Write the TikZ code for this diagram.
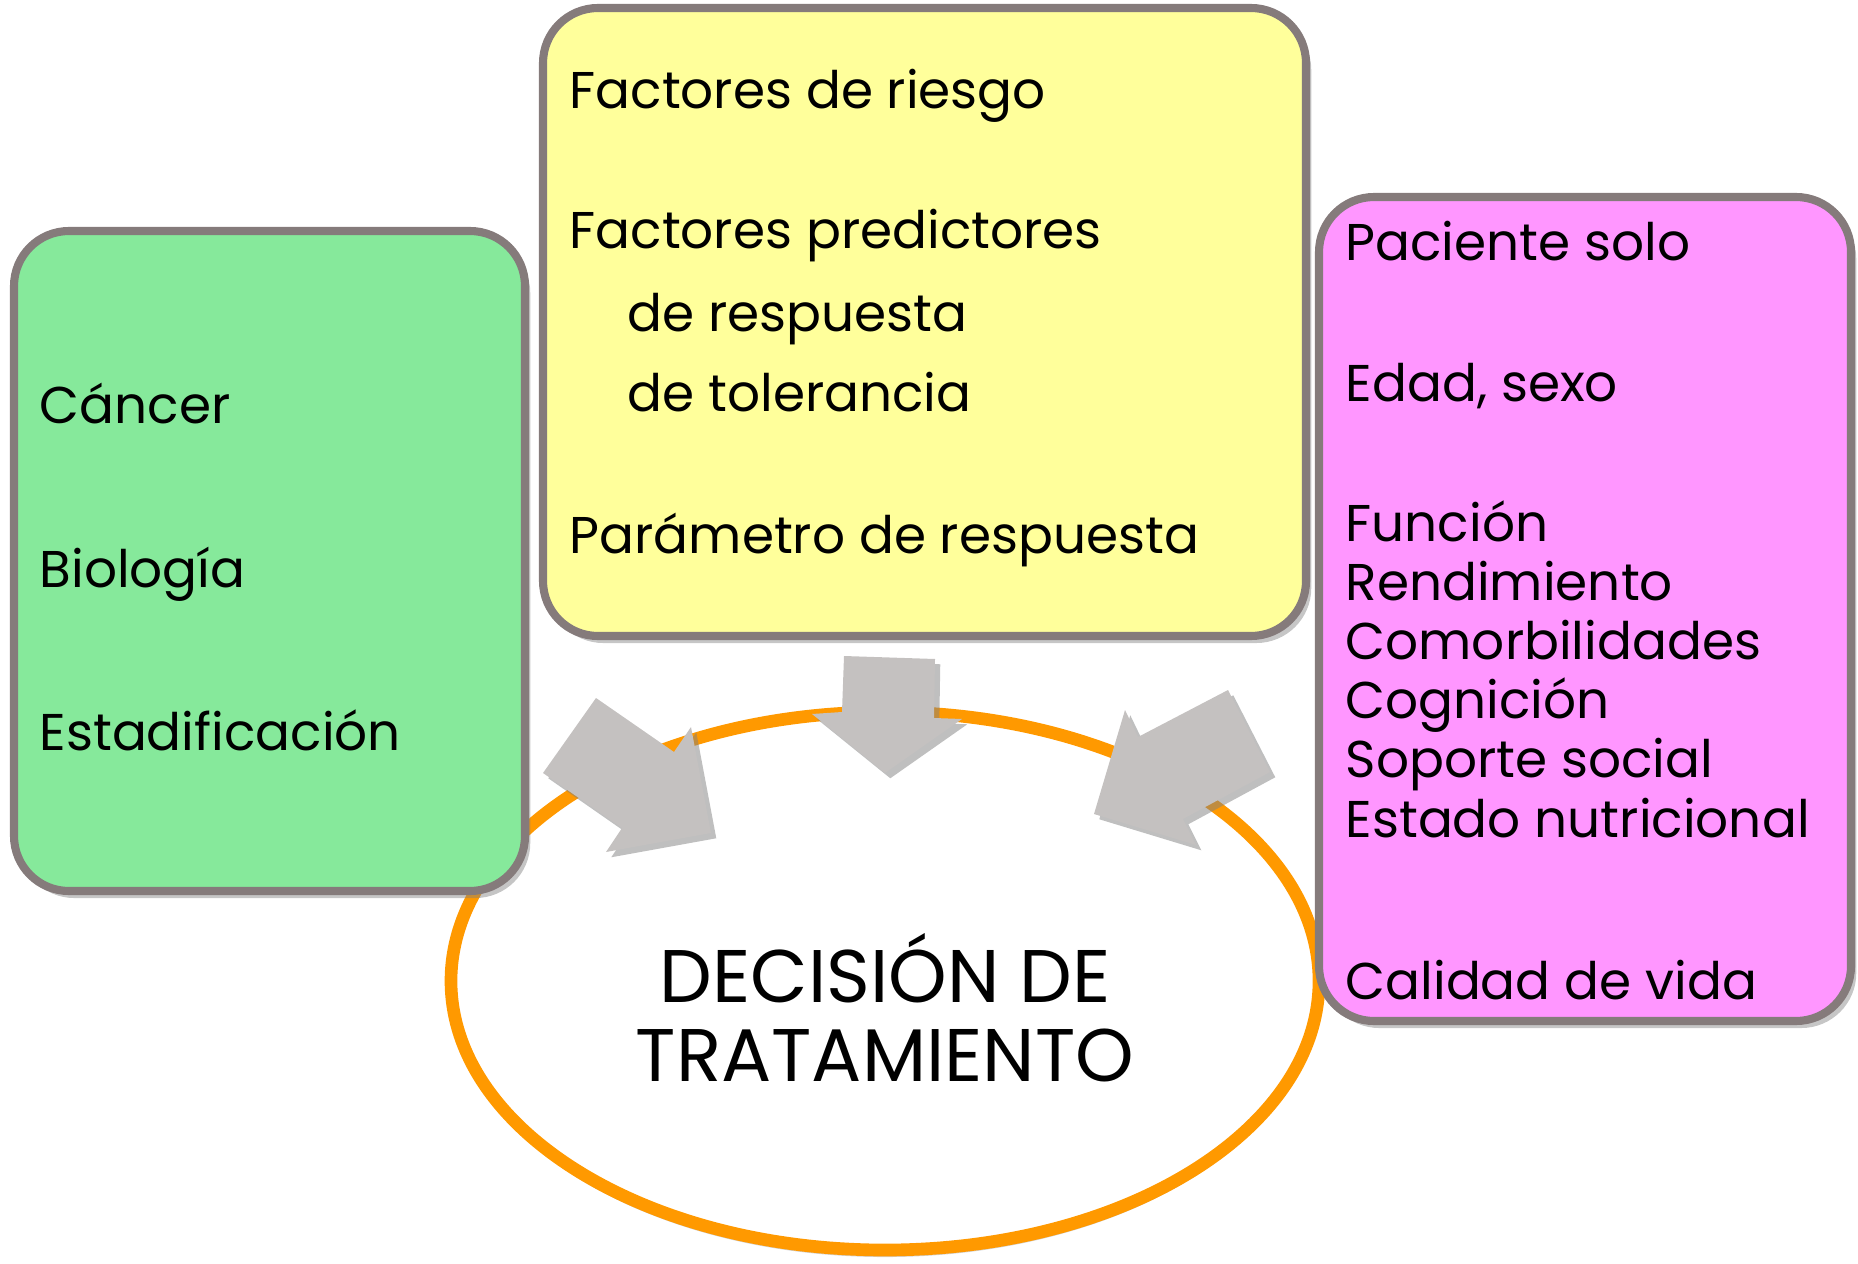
\documentclass[tikz,border=0pt]{standalone}
\usepackage{fontspec}
\setmainfont{Poppins}
\usetikzlibrary{shadows}

\definecolor{boxgreen}{HTML}{86E99B}
\definecolor{boxyellow}{HTML}{FFFF9B}
\definecolor{boxpink}{HTML}{FF96FF}
\definecolor{boxrim}{HTML}{857B7B}
\definecolor{ringorange}{HTML}{FF9900}
\definecolor{arrowgray}{HTML}{C4C1C0}

\tikzset{
  factorbox/.style={draw=boxrim, line width=2.3pt, rounded corners=0.55cm,
    drop shadow={shadow xshift=1.5pt, shadow yshift=-2pt, opacity=0.45}},
  item/.style={anchor=base west, inner sep=0pt, font=\fontsize{14.7}{16.8}\selectfont,
    align=left},
  bigarrow/.style={fill=arrowgray,
    drop shadow={shadow xshift=1.5pt, shadow yshift=-1.5pt, opacity=0.5}}
}

\begin{document}
\begin{tikzpicture}[x=0.01cm, y=-0.01cm]

\useasboundingbox (0,0) rectangle (1858,1264);

% Decision ellipse
\draw[ringorange, line width=3.6pt, fill=white,
  drop shadow={shadow xshift=0pt, shadow yshift=-2pt, opacity=0.35}]
  (885,981) ellipse [x radius=434, y radius=269];
\node (decision) at (885,1081) [anchor=base, inner sep=0pt, align=center,
  font=\fontsize{21.2}{22.2}\selectfont] {DECISIÓN DE\\TRATAMIENTO};

% Boxes
\draw[factorbox, fill=boxgreen] (14,231) rectangle (525,891);
\draw[factorbox, fill=boxyellow] (543,8) rectangle (1306,636);
\draw[factorbox, fill=boxpink] (1319,197) rectangle (1851,1021);

% Cancer
\node[item] (cancer) at (39,423) {Cáncer};
\node[item] (biologia) at (39,587) {Biología};
\node[item] (estadio) at (39,750) {Estadificación};

% Tratamiento
\node[item] (riesgo) at (569,109) {Factores de riesgo};
\node[item] (predictores) at (569,249) {Factores predictores};
\node[item] (respuesta) at (627,332) {de respuesta};
\node[item] (tolerancia) at (627,411) {de tolerancia};
\node[item] (parametro) at (569,553) {Parámetro de respuesta};

% Paciente (multi-line node sits on its last baseline)
\node[item] (solo) at (1345,261) {Paciente solo};
\node[item] (edad) at (1345,401) {Edad, sexo};
\node[item] (funcion) at (1345,837) {Función\\Rendimiento\\Comorbilidades\\Cognición\\Soporte social\\Estado nutricional};
\node[item] (calidad) at (1345,999) {Calidad de vida};

% Arrows into the ellipse
\fill[bigarrow] (596,698) -- (674,752) -- (691,727) -- (711,833) -- (606,852) -- (622,828) -- (543,773) -- cycle;
\fill[bigarrow] (844,656) -- (935,659) -- (934,718) -- (962,719) -- (885,773) -- (812,714) -- (842,712) -- cycle;
\fill[bigarrow] (1228,690) -- (1270,772) -- (1183,819) -- (1196,845) -- (1094,814) -- (1125,710) -- (1138,737) -- cycle;

\end{tikzpicture}
\end{document}
